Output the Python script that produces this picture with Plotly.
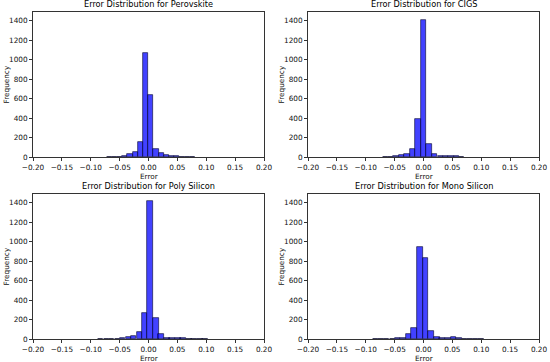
import plotly.graph_objects as go

# ---- data (bin centers and counts) ----
titles = ["Error Distribution for Perovskite", "Error Distribution for CIGS",
          "Error Distribution for Poly Silicon", "Error Distribution for Mono Silicon"]

perov_centers = [-0.068, -0.059, -0.050, -0.041, -0.032, -0.023, -0.014, -0.005, 0.004, 0.013,
                 0.022, 0.031, 0.040, 0.049, 0.058, 0.067, 0.076]
perov_counts = [1, 2, 5, 12, 30, 50, 150, 1065, 635, 85, 45, 20, 15, 8, 5, 3, 2]

cigs_centers = [-0.066, -0.057, -0.048, -0.038, -0.029, -0.019, -0.0095, 0.0, 0.0095,
                0.019, 0.029, 0.038, 0.048, 0.057, 0.066]
cigs_counts = [2, 3, 10, 25, 35, 80, 390, 1405, 130, 35, 15, 8, 12, 8, 3]

poly_centers = [-0.083, -0.073, -0.064, -0.054, -0.045, -0.035, -0.026, -0.016, -0.007, 0.003,
                0.013, 0.022, 0.032, 0.041, 0.051, 0.060, 0.070, 0.079, 0.089, 0.098]
poly_counts = [5, 2, 3, 5, 8, 20, 35, 75, 265, 1418, 220, 55, 15, 15, 12, 8, 5, 2, 3, 3]

mono_centers = [-0.083, -0.074, -0.064, -0.054, -0.045, -0.035, -0.026, -0.016, -0.0064, 0.0035,
                0.013, 0.023, 0.032, 0.042, 0.052, 0.061, 0.071, 0.080, 0.090, 0.100]
mono_counts = [2, 2, 3, 5, 12, 15, 55, 110, 945, 830, 85, 20, 10, 8, 20, 8, 5, 3, 3, 2]

bin_widths = [0.009, 0.0095, 0.0095, 0.0097]

x_ticks = [-0.20, -0.15, -0.10, -0.05, 0.00, 0.05, 0.10, 0.15, 0.20]
x_ticktext = ["\u22120.20", "\u22120.15", "\u22120.10", "\u22120.05", "0.00", "0.05", "0.10", "0.15", "0.20"]
y_ticks = [0, 200, 400, 600, 800, 1000, 1200, 1400]
y_ticktext = [str(v) for v in y_ticks]

series = [(perov_centers, perov_counts), (cigs_centers, cigs_counts),
          (poly_centers, poly_counts), (mono_centers, mono_counts)]

W, H = 550, 362
# axes boxes in pixels (left, right, top, bottom)
boxes = [(33, 264, 12, 157), (308, 539, 12, 157), (33, 264, 194, 339), (308, 539, 194, 339)]

FONT = "DejaVu Sans"
fig = go.Figure()
layout = dict(width=W, height=H, margin=dict(l=0, r=0, t=0, b=0, autoexpand=False),
              paper_bgcolor="white", plot_bgcolor="white", showlegend=False,
              bargap=0, font=dict(family=FONT, color="black"))
annotations = []

for i, ((cx, cy), box) in enumerate(zip(series, boxes)):
    n = i + 1
    xa = "x" if n == 1 else f"x{n}"
    ya = "y" if n == 1 else f"y{n}"
    fig.add_trace(go.Bar(x=cx, y=cy, width=[bin_widths[i]] * len(cx), xaxis=xa, yaxis=ya,
                         marker=dict(color="rgba(0,0,255,0.74)",
                                     line=dict(color="rgba(0,0,40,0.85)", width=0.7))))
    l, r, t, b = box
    xd = [l / W, r / W]
    yd = [(H - b) / H, (H - t) / H]
    common = dict(showline=True, linecolor="#333", linewidth=0.8, mirror=True,
                  ticks="outside", ticklen=3, tickwidth=0.7, tickcolor="#333", automargin=False,
                  showgrid=False, zeroline=False, tickfont=dict(size=7.3, family=FONT, color="#111"))
    layout["xaxis" if n == 1 else f"xaxis{n}"] = dict(
        domain=xd, range=[-0.2, 0.2], tickvals=x_ticks, ticktext=x_ticktext,
        anchor=ya, **common)
    layout["yaxis" if n == 1 else f"yaxis{n}"] = dict(
        domain=yd, range=[0, 1490], tickvals=y_ticks, ticktext=y_ticktext,
        anchor=xa, **common)
    annotations.append(dict(text=titles[i], x=(l + r) / 2 / W, y=(H - t + 1) / H,
                            xref="paper", yref="paper", xanchor="center", yanchor="bottom",
                            showarrow=False, font=dict(size=8.2, family=FONT, color="#000")))
    annotations.append(dict(text="Error", x=(l + r) / 2 / W, y=(H - b - 13) / H,
                            xref="paper", yref="paper", xanchor="center", yanchor="top",
                            showarrow=False, font=dict(size=7.3, family=FONT, color="#111")))
    annotations.append(dict(text="Frequency", x=(l - 27) / W, y=(H - (t + b) / 2) / H,
                            xref="paper", yref="paper", xanchor="center", yanchor="middle",
                            textangle=-90, showarrow=False,
                            font=dict(size=7.3, family=FONT, color="#111")))

layout["annotations"] = annotations
fig.update_layout(**layout)
fig.write_html("out.html", config={"displayModeBar": False},
               post_script="document.body.style.margin='0';document.body.style.overflow='hidden';")
